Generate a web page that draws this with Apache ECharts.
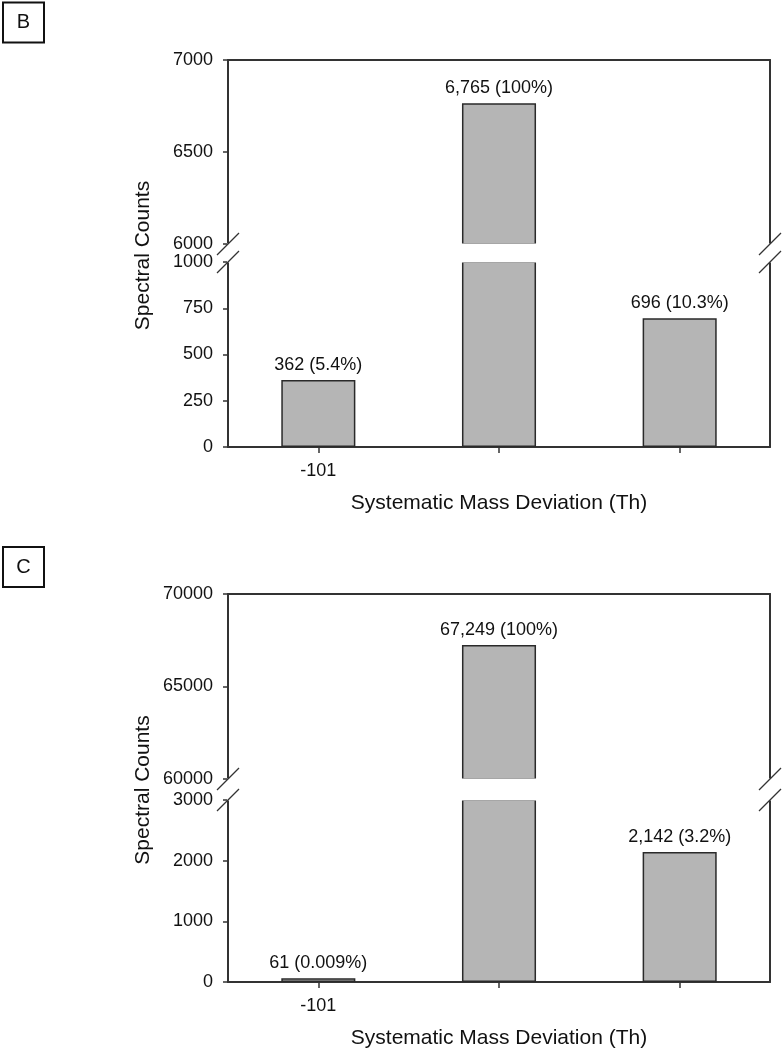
<!DOCTYPE html>
<html>
<head>
<meta charset="utf-8">
<script src="https://cdn.jsdelivr.net/npm/echarts@6/dist/echarts.min.js"></script>
<style>
  html, body { margin: 0; padding: 0; background: #fff; }
  #chart { width: 783px; height: 1050px; }
</style>
</head>
<body>
<div id="chart"></div>
<script>
const categories = ['-101', '', ''];

// panel B
const countsB = [362, 6765, 696];
const pctB = ['5.4%', '100%', '10.3%'];
const upperTicksB = [6000, 6500, 7000];
const lowerTicksB = [0, 250, 500, 750, 1000];

// panel C
const countsC = [61, 67249, 2142];
const pctC = ['0.009%', '100%', '3.2%'];
const upperTicksC = [60000, 65000, 70000];
const lowerTicksC = [0, 1000, 2000, 3000];

const FONT = '"Liberation Sans", Arial, sans-serif';
const AXIS_COLOR = '#333';
const TEXT_COLOR = '#111';
const LEFT = 228;
const RIGHT = 13;
const PLOT_W = 783 - LEFT - RIGHT;

const axisLine = { show: true, onZero: false, lineStyle: { color: AXIS_COLOR, width: 2 } };

function makePanel(n, layout, counts, pcts, upperTicks, lowerTicks, letter) {
  const g = n * 2;
  const grids = [
    { left: LEFT, right: RIGHT, top: layout.upperTop, height: layout.upperH },
    { left: LEFT, right: RIGHT, top: layout.lowerTop, height: layout.lowerH }
  ];

  const xAxes = [
    {
      gridIndex: g, type: 'category', data: categories, position: 'top',
      axisLine: axisLine, axisTick: { show: false }, axisLabel: { show: false }
    },
    {
      gridIndex: g + 1, type: 'category', data: categories, position: 'bottom',
      axisLine: axisLine,
      axisTick: { show: true, alignWithLabel: true, length: 6, lineStyle: { color: AXIS_COLOR, width: 1.5 } },
      axisLabel: { interval: 0, fontSize: 18, fontFamily: FONT, color: TEXT_COLOR, margin: 15 },
      name: 'Systematic Mass Deviation (Th)', nameLocation: 'middle', nameGap: 46,
      nameTextStyle: { fontSize: 21, fontFamily: FONT, color: TEXT_COLOR }
    }
  ];

  function yPair(gi, ticks) {
    const min = ticks[0], max = ticks[ticks.length - 1], interval = ticks[1] - ticks[0];
    return [
      {
        gridIndex: gi, type: 'value', position: 'left', min: min, max: max, interval: interval,
        axisLine: axisLine,
        axisTick: { show: true, length: 5, lineStyle: { color: AXIS_COLOR, width: 1.5 } },
        axisLabel: { fontSize: 18, fontFamily: FONT, color: TEXT_COLOR, margin: 15, formatter: v => String(v) },
        splitLine: { show: false }
      },
      {
        gridIndex: gi, type: 'value', position: 'right', min: min, max: max, interval: interval,
        axisLine: axisLine, axisTick: { show: false }, axisLabel: { show: false },
        splitLine: { show: false }
      }
    ];
  }
  const yAxes = yPair(g, upperTicks).concat(yPair(g + 1, lowerTicks));

  const upperMin = upperTicks[0];
  const label = {
    position: 'top', distance: 6, fontSize: 18, fontFamily: FONT, color: TEXT_COLOR,
    formatter: p => counts[p.dataIndex].toLocaleString('en-US') + ' (' + pcts[p.dataIndex] + ')'
  };
  const barStyle = { color: '#b5b5b5', borderColor: '#2a2a2a', borderWidth: 1.5 };

  const series = [
    {
      type: 'bar', xAxisIndex: g, yAxisIndex: g * 2, barWidth: '41%', clip: true,
      itemStyle: barStyle, label: label,
      data: counts.map(v => ({ value: v, label: { show: v >= upperMin } }))
    },
    {
      type: 'bar', xAxisIndex: g + 1, yAxisIndex: g * 2 + 2, barWidth: '41%', clip: true,
      itemStyle: barStyle, label: label,
      data: counts.map(v => ({ value: v, label: { show: v < upperMin } }))
    }
  ];

  // break gap and slash marks on both vertical axes
  const gapTop = layout.upperTop + layout.upperH;
  const gapBottom = layout.lowerTop;
  const slash = (cx, cy) => ({
    type: 'line', z: 110,
    shape: { x1: cx - 11, y1: cy + 11, x2: cx + 11, y2: cy - 11 },
    style: { stroke: AXIS_COLOR, lineWidth: 1.2 }
  });
  const graphics = [
    {
      type: 'rect', z: 100,
      shape: { x: LEFT - 1, y: gapTop - 0.5, width: PLOT_W + 2, height: gapBottom - gapTop + 1 },
      style: { fill: '#fff' }
    },
    slash(LEFT, gapTop), slash(LEFT, gapBottom),
    slash(LEFT + PLOT_W, gapTop), slash(LEFT + PLOT_W, gapBottom),
    {
      type: 'rect', z: 100,
      shape: { x: 3, y: layout.boxTop, width: 41, height: 40 },
      style: { fill: '#fff', stroke: '#111', lineWidth: 2 }
    },
    {
      type: 'text', z: 101, x: 23.5, y: layout.boxTop + 20,
      style: { text: letter, font: '20px ' + FONT, fill: TEXT_COLOR, align: 'center', verticalAlign: 'middle' }
    },
    {
      type: 'text', z: 101, x: 143, y: (layout.upperTop + layout.lowerTop + layout.lowerH) / 2 + 2,
      rotation: Math.PI / 2,
      style: { text: 'Spectral Counts', font: '21px ' + FONT, fill: TEXT_COLOR, align: 'center', verticalAlign: 'middle' }
    }
  ];

  return { grids, xAxes, yAxes, series, graphics };
}

const panelB = makePanel(0, { upperTop: 60, upperH: 184, lowerTop: 262, lowerH: 185, boxTop: 2.5 },
  countsB, pctB, upperTicksB, lowerTicksB, 'B');
const panelC = makePanel(1, { upperTop: 594, upperH: 185, lowerTop: 800, lowerH: 182, boxTop: 547 },
  countsC, pctC, upperTicksC, lowerTicksC, 'C');

const chart = echarts.init(document.getElementById('chart'), null, { renderer: 'canvas' });
chart.setOption({
  animation: false,
  backgroundColor: '#fff',
  textStyle: { fontFamily: FONT },
  grid: panelB.grids.concat(panelC.grids),
  xAxis: panelB.xAxes.concat(panelC.xAxes),
  yAxis: panelB.yAxes.concat(panelC.yAxes),
  series: panelB.series.concat(panelC.series),
  graphic: { elements: panelB.graphics.concat(panelC.graphics) }
});
</script>
</body>
</html>
